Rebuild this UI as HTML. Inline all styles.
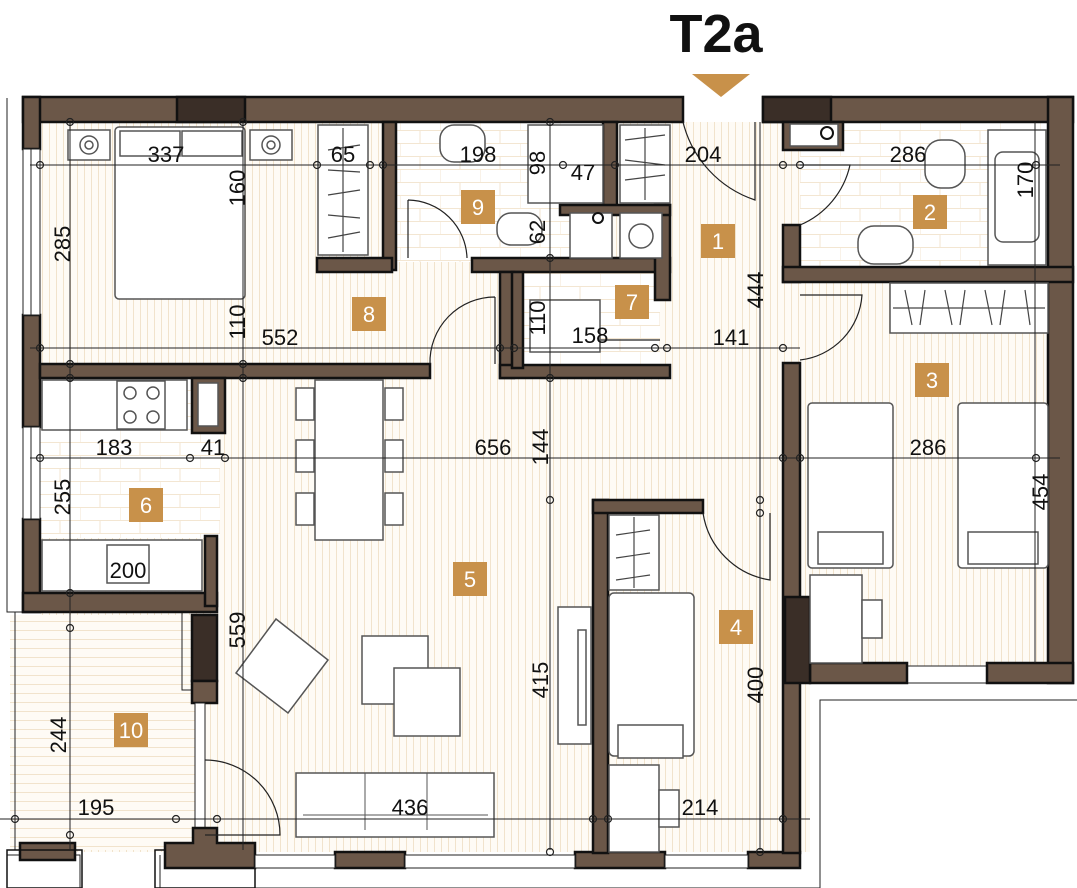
<!DOCTYPE html>
<html><head><meta charset="utf-8"><style>
html,body{margin:0;padding:0;background:#fff;}
svg{display:block;}
text{font-family:"Liberation Sans",sans-serif;}
.d{font-size:22px;fill:#111;}
.lb{fill:#c8914a;}
.lt{font-size:22px;fill:#fff;text-anchor:middle;}
.w{fill:#6b5748;stroke:#111;stroke-width:2.5;}
.dk{fill:#3a2e27;stroke:#111;stroke-width:2.5;}
.f{fill:#fff;stroke:#555;stroke-width:1.5;}
.dl{stroke:#222;stroke-width:1;fill:none;}
.door{stroke:#222;stroke-width:1.2;fill:none;}
</style></head><body>
<svg width="1077" height="888" viewBox="0 0 1077 888" xmlns="http://www.w3.org/2000/svg">
<defs>
<pattern id="vs" width="7" height="7" patternUnits="userSpaceOnUse"><rect width="7" height="7" fill="#fefbf5"/><line x1="0.5" y1="0" x2="0.5" y2="7" stroke="#f1e3cc" stroke-width="1"/></pattern>
<pattern id="hs" width="7" height="9" patternUnits="userSpaceOnUse"><rect width="7" height="9" fill="#fefbf5"/><line x1="0" y1="0.5" x2="7" y2="0.5" stroke="#f1e3cc" stroke-width="1"/></pattern>
<pattern id="tl" width="40" height="26" patternUnits="userSpaceOnUse"><rect width="40" height="26" fill="#fff"/><path d="M0 0.5H40M0 13.5H40M20 0V13M0 13V26" stroke="#f3e6d2" stroke-width="1" fill="none"/></pattern>
</defs>
<text x="716" y="52" font-size="54" font-weight="bold" text-anchor="middle" fill="#111">T2a</text>
<polygon points="692,74 750,74 721,97" fill="#c8914a"/>

<rect x="40" y="122" width="1010" height="730" fill="url(#vs)"/>
<rect x="396" y="122" width="210" height="140" fill="url(#tl)"/>
<rect x="520" y="272" width="140" height="94" fill="url(#tl)"/>
<rect x="800" y="122" width="250" height="148" fill="url(#tl)"/>
<rect x="40" y="378" width="180" height="160" fill="url(#tl)"/>
<rect x="10" y="615" width="190" height="235" fill="url(#hs)"/>
<rect x="810" y="683" width="267" height="205" fill="#fff"/>

<path d="M7 98 V612 H182 V690 H198" class="dl" stroke-width="1.5"/>
<path d="M15 612 V850" class="dl"/>
<path d="M7 855 H80 V888 M160 855 V888 M160 888 H820" class="dl" stroke-width="1.5"/>
<path d="M820 888 V700 H1077" class="dl" stroke-width="1.5"/>
<rect x="20" y="843" width="55" height="17" class="w"/>
<rect x="7" y="850" width="75" height="38" fill="none" stroke="#111" stroke-width="1.5"/>
<rect x="155" y="850" width="100" height="38" fill="none" stroke="#111" stroke-width="1.5"/>

<rect x="23" y="97" width="660" height="25" class="w"/>
<rect x="177" y="97" width="68" height="25" class="dk"/>
<rect x="763" y="97" width="310" height="25" class="w"/>
<rect x="763" y="97" width="68" height="25" class="dk"/>
<rect x="1048" y="97" width="25" height="586" class="w"/>
<rect x="23" y="97" width="17" height="52" class="w"/>
<rect x="23" y="315" width="17" height="112" class="w"/>
<rect x="23" y="519" width="17" height="93" class="w"/>
<rect x="23" y="593" width="194" height="19" class="w"/>
<rect x="205" y="536" width="12" height="70" class="w"/>
<rect x="192" y="615" width="25" height="66" class="dk"/>
<rect x="192" y="681" width="25" height="22" class="w"/>
<rect x="23" y="149" width="17" height="166" fill="#fff" stroke="#222" stroke-width="1"/>
<line x1="31" y1="149" x2="31" y2="315" stroke="#222"/>
<rect x="23" y="427" width="17" height="92" fill="#fff" stroke="#222" stroke-width="1"/>
<line x1="31" y1="427" x2="31" y2="519" stroke="#222"/>
<rect x="195" y="703" width="10" height="150" fill="#fff" stroke="#222"/>
<path d="M165 868 V843 H193 V828 H217 V843 H255 V868 Z" class="w"/>
<rect x="335" y="852" width="70" height="16" class="w"/>
<rect x="575" y="852" width="90" height="16" class="w"/>
<rect x="748" y="852" width="52" height="16" class="w"/>
<rect x="255" y="855" width="80" height="13" fill="#fff" stroke="#222"/>
<rect x="405" y="855" width="170" height="13" fill="#fff" stroke="#222"/>
<rect x="665" y="855" width="83" height="13" fill="#fff" stroke="#222"/>
<rect x="907" y="666" width="80" height="17" fill="#fff" stroke="#222"/>
<rect x="810" y="663" width="97" height="20" class="w"/>
<rect x="987" y="663" width="86" height="20" class="w"/>

<rect x="40" y="364" width="390" height="14" class="w"/>
<rect x="383" y="122" width="13" height="148" class="w"/>
<rect x="317" y="258" width="75" height="14" class="w"/>
<rect x="472" y="258" width="198" height="14" class="w"/>
<rect x="603" y="122" width="14" height="85" class="w"/>
<rect x="655" y="205" width="15" height="95" class="w"/>
<rect x="500" y="272" width="14" height="106" class="w"/>
<rect x="500" y="365" width="170" height="13" class="w"/>
<rect x="512" y="272" width="11" height="96" class="w"/>
<rect x="560" y="205" width="110" height="10" class="w"/>
<rect x="783" y="225" width="17" height="57" class="w"/>
<rect x="783" y="267" width="290" height="15" class="w"/>
<rect x="783" y="363" width="17" height="490" class="w"/>
<rect x="785" y="597" width="25" height="86" class="dk"/>
<rect x="593" y="500" width="15" height="353" class="w"/>
<rect x="593" y="500" width="110" height="13" class="w"/>
<rect x="783" y="122" width="60" height="28" class="w"/>
<rect x="790" y="124" width="48" height="22" class="f"/>
<circle cx="827" cy="133" r="6" fill="none" stroke="#111" stroke-width="2"/>

<path d="M683 122 A110 110 0 0 0 755 200 L755 122" class="door"/>
<path d="M800 165 H850 A85 85 0 0 1 800 225" class="door"/>
<path d="M800 295 H862 A70 70 0 0 1 800 360" class="door"/>
<path d="M408 200 V258 M408 200 A60 60 0 0 1 467 258" class="door"/>
<path d="M495 297 V364 M495 297 A65 65 0 0 0 430 364" class="door"/>
<path d="M703 513 A80 80 0 0 0 770 580 V513" class="door"/>
<path d="M205 760 A75 75 0 0 1 280 835 H205" class="door"/>
<path d="M595 340 H660" class="door" stroke-width="3"/>

<rect x="115" y="127" width="130" height="172" rx="4" class="f"/>
<rect x="120" y="131" width="60" height="25" class="f"/><rect x="182" y="131" width="60" height="25" class="f"/>
<rect x="68" y="130" width="42" height="30" class="f"/><circle cx="89" cy="145" r="9" class="f"/><circle cx="89" cy="145" r="4" class="f"/>
<rect x="250" y="130" width="42" height="30" class="f"/><circle cx="271" cy="145" r="9" class="f"/><circle cx="271" cy="145" r="4" class="f"/>
<rect x="318" y="125" width="50" height="130" class="f"/>
<g stroke="#444" stroke-width="1.2"><line x1="343" y1="128" x2="343" y2="252"/><path d="M328 150 L360 145 M328 170 L360 172 M328 195 L360 190 M328 215 L360 218 M328 238 L360 232"/></g>
<rect x="440" y="125" width="45" height="37" rx="14" class="f"/>
<rect x="528" y="125" width="75" height="78" class="f"/>
<rect x="497" y="213" width="45" height="32" rx="14" class="f"/>
<rect x="620" y="125" width="50" height="78" class="f"/>
<g stroke="#444" stroke-width="1.2"><line x1="645" y1="128" x2="645" y2="200"/><path d="M625 140 L665 135 M625 160 L665 165 M625 180 L665 175"/></g>
<rect x="570" y="213" width="42" height="45" class="f"/><rect x="620" y="213" width="42" height="45" class="f"/>
<circle cx="641" cy="236" r="12" class="f"/><circle cx="598" cy="218" r="5" fill="none" stroke="#111" stroke-width="2"/>
<rect x="530" y="300" width="70" height="52" class="f"/>
<rect x="988" y="130" width="58" height="135" class="f"/><rect x="995" y="152" width="44" height="90" rx="8" class="f"/>
<rect x="925" y="140" width="40" height="48" rx="16" class="f"/>
<rect x="858" y="226" width="55" height="38" rx="16" class="f"/>
<rect x="890" y="283" width="158" height="50" class="f"/>
<g stroke="#444" stroke-width="1.2"><line x1="893" y1="308" x2="1045" y2="308"/><path d="M905 290 L912 325 M925 290 L920 325 M945 290 L952 325 M965 290 L960 325 M985 290 L992 325 M1005 290 L1000 325 M1025 290 L1030 325"/></g>
<rect x="808" y="403" width="85" height="165" rx="4" class="f"/><rect x="818" y="532" width="65" height="32" class="f"/>
<rect x="958" y="403" width="90" height="165" rx="4" class="f"/><rect x="968" y="532" width="70" height="32" class="f"/>
<rect x="810" y="575" width="52" height="88" class="f"/><rect x="862" y="600" width="20" height="38" class="f"/>
<rect x="609" y="515" width="50" height="75" class="f"/>
<g stroke="#444" stroke-width="1.2"><line x1="634" y1="517" x2="634" y2="588"/><path d="M616 535 L650 530 M616 558 L650 553 M616 580 L650 575"/></g>
<rect x="609" y="593" width="85" height="163" rx="5" class="f"/><rect x="618" y="725" width="65" height="33" class="f"/>
<rect x="609" y="765" width="50" height="87" class="f"/><rect x="659" y="790" width="20" height="37" class="f"/>
<rect x="558" y="607" width="33" height="137" class="f"/><rect x="578" y="630" width="8" height="95" class="f"/>
<rect x="315" y="380" width="68" height="160" class="f"/>
<g class="f"><rect x="296" y="388" width="18" height="32"/><rect x="296" y="440" width="18" height="32"/><rect x="296" y="493" width="18" height="32"/><rect x="385" y="388" width="18" height="32"/><rect x="385" y="440" width="18" height="32"/><rect x="385" y="493" width="18" height="32"/></g>
<polygon points="276,619 328,660 288,713 236,673" class="f"/>
<rect x="362" y="636" width="66" height="68" class="f"/><rect x="394" y="668" width="66" height="68" class="f"/>
<rect x="296" y="773" width="198" height="64" class="f"/>
<line x1="303" y1="815" x2="488" y2="815" stroke="#555"/><line x1="365" y1="773" x2="365" y2="830" stroke="#555"/><line x1="427" y1="773" x2="427" y2="830" stroke="#555"/>
<rect x="42" y="380" width="145" height="50" class="f"/><rect x="117" y="381" width="48" height="48" class="f"/>
<circle cx="130" cy="393" r="6" class="f"/><circle cx="153" cy="393" r="6" class="f"/><circle cx="130" cy="417" r="6" class="f"/><circle cx="153" cy="417" r="6" class="f"/>
<rect x="192" y="378" width="33" height="55" class="w"/><rect x="198" y="383" width="20" height="43" class="f"/>
<rect x="42" y="540" width="160" height="51" class="f"/><rect x="107" y="545" width="42" height="38" class="f"/>

<g class="dl">
<line x1="30" y1="165" x2="1060" y2="165"/>
<line x1="30" y1="348" x2="800" y2="348"/>
<line x1="30" y1="458" x2="1060" y2="458"/>
<line x1="0" y1="819" x2="810" y2="819"/>
<line x1="70" y1="122" x2="70" y2="850"/>
<line x1="243" y1="122" x2="243" y2="850"/>
<line x1="550" y1="122" x2="550" y2="850"/>
<line x1="1035" y1="122" x2="1035" y2="663"/>
<line x1="760" y1="122" x2="760" y2="850"/>
</g>
<g fill="none" stroke="#222" stroke-width="1.2">
<circle cx="40" cy="165" r="3.5"/><circle cx="317" cy="165" r="3.5"/><circle cx="370" cy="165" r="3.5"/><circle cx="383" cy="165" r="3.5"/><circle cx="563" cy="165" r="3.5"/><circle cx="615" cy="165" r="3.5"/><circle cx="783" cy="165" r="3.5"/><circle cx="800" cy="165" r="3.5"/><circle cx="1036" cy="165" r="3.5"/>
<circle cx="40" cy="348" r="3.5"/><circle cx="500" cy="348" r="3.5"/><circle cx="514" cy="348" r="3.5"/><circle cx="655" cy="348" r="3.5"/><circle cx="667" cy="348" r="3.5"/><circle cx="783" cy="348" r="3.5"/>
<circle cx="40" cy="458" r="3.5"/><circle cx="190" cy="458" r="3.5"/><circle cx="225" cy="458" r="3.5"/><circle cx="783" cy="458" r="3.5"/><circle cx="800" cy="458" r="3.5"/><circle cx="1036" cy="458" r="3.5"/>
<circle cx="15" cy="819" r="3.5"/><circle cx="176" cy="819" r="3.5"/><circle cx="217" cy="819" r="3.5"/><circle cx="593" cy="819" r="3.5"/><circle cx="608" cy="819" r="3.5"/><circle cx="783" cy="819" r="3.5"/>
<circle cx="70" cy="122" r="3.5"/><circle cx="70" cy="364" r="3.5"/><circle cx="70" cy="378" r="3.5"/><circle cx="70" cy="593" r="3.5"/><circle cx="70" cy="628" r="3.5"/><circle cx="70" cy="835" r="3.5"/>
<circle cx="243" cy="122" r="3.5"/><circle cx="243" cy="364" r="3.5"/><circle cx="243" cy="378" r="3.5"/>
<circle cx="550" cy="122" r="3.5"/><circle cx="550" cy="258" r="3.5"/><circle cx="550" cy="378" r="3.5"/><circle cx="550" cy="500" r="3.5"/><circle cx="550" cy="852" r="3.5"/>
<circle cx="760" cy="500" r="3.5"/><circle cx="760" cy="513" r="3.5"/><circle cx="760" cy="852" r="3.5"/>
</g>

<g class="d">
<text x="166" y="162" text-anchor="middle">337</text>
<text x="343" y="162" text-anchor="middle">65</text>
<text x="478" y="162" text-anchor="middle">198</text>
<text x="583" y="180" text-anchor="middle">47</text>
<text x="703" y="162" text-anchor="middle">204</text>
<text x="908" y="162" text-anchor="middle">286</text>
<text x="280" y="345" text-anchor="middle">552</text>
<text x="590" y="343" text-anchor="middle">158</text>
<text x="731" y="345" text-anchor="middle">141</text>
<text x="114" y="455" text-anchor="middle">183</text>
<text x="213" y="455" text-anchor="middle">41</text>
<text x="493" y="455" text-anchor="middle">656</text>
<text x="928" y="455" text-anchor="middle">286</text>
<text x="128" y="578" text-anchor="middle">200</text>
<text x="96" y="815" text-anchor="middle">195</text>
<text x="410" y="815" text-anchor="middle">436</text>
<text x="700" y="815" text-anchor="middle">214</text>
<text transform="translate(245,188) rotate(-90)" text-anchor="middle">160</text>
<text transform="translate(70,244) rotate(-90)" text-anchor="middle">285</text>
<text transform="translate(545,163) rotate(-90)" text-anchor="middle">98</text>
<text transform="translate(545,232) rotate(-90)" text-anchor="middle">62</text>
<text transform="translate(245,322) rotate(-90)" text-anchor="middle">110</text>
<text transform="translate(545,318) rotate(-90)" text-anchor="middle">110</text>
<text transform="translate(1033,180) rotate(-90)" text-anchor="middle">170</text>
<text transform="translate(763,290) rotate(-90)" text-anchor="middle">444</text>
<text transform="translate(548,447) rotate(-90)" text-anchor="middle">144</text>
<text transform="translate(1048,492) rotate(-90)" text-anchor="middle">454</text>
<text transform="translate(70,497) rotate(-90)" text-anchor="middle">255</text>
<text transform="translate(245,630) rotate(-90)" text-anchor="middle">559</text>
<text transform="translate(548,680) rotate(-90)" text-anchor="middle">415</text>
<text transform="translate(763,685) rotate(-90)" text-anchor="middle">400</text>
<text transform="translate(66,735) rotate(-90)" text-anchor="middle">244</text>
</g>

<g>
<rect class="lb" x="701" y="224" width="34" height="34"/><text class="lt" x="718" y="249">1</text>
<rect class="lb" x="913" y="195" width="34" height="34"/><text class="lt" x="930" y="220">2</text>
<rect class="lb" x="915" y="363" width="34" height="34"/><text class="lt" x="932" y="388">3</text>
<rect class="lb" x="719" y="610" width="34" height="34"/><text class="lt" x="736" y="635">4</text>
<rect class="lb" x="453" y="562" width="34" height="34"/><text class="lt" x="470" y="587">5</text>
<rect class="lb" x="129" y="488" width="34" height="34"/><text class="lt" x="146" y="513">6</text>
<rect class="lb" x="615" y="285" width="34" height="34"/><text class="lt" x="632" y="310">7</text>
<rect class="lb" x="352" y="297" width="34" height="34"/><text class="lt" x="369" y="322">8</text>
<rect class="lb" x="461" y="190" width="34" height="34"/><text class="lt" x="478" y="215">9</text>
<rect class="lb" x="114" y="713" width="34" height="34"/><text class="lt" x="131" y="738">10</text>
</g>
</svg>
</body></html>
